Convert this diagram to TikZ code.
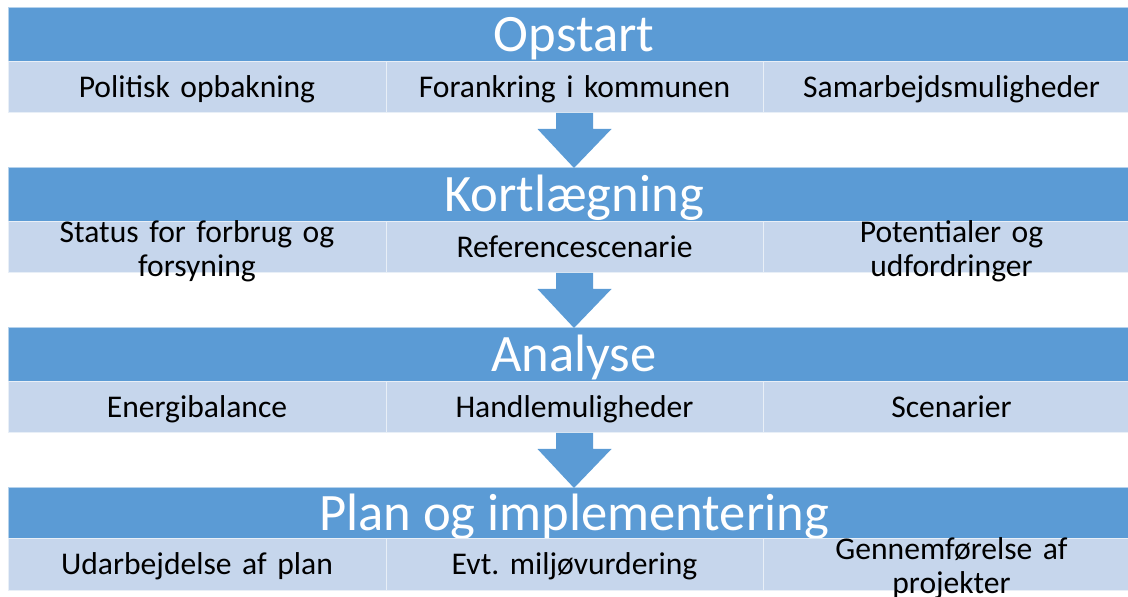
\documentclass[tikz,border=0pt]{standalone}
\usepackage{fontspec}
\setmainfont{Carlito}
\usetikzlibrary{calc}
\definecolor{phaseblue}{RGB}{91,155,213}
\definecolor{tasklight}{RGB}{198,214,236}

\begin{document}
\begin{tikzpicture}[x=0.5pt,y=-0.5pt]
\tikzstyle{every node}+=[inner sep=0pt,outer sep=0pt]
\tikzstyle{phase}=[fill=phaseblue,draw=white!55!phaseblue,line width=0.5pt,anchor=north west,minimum width=566pt,minimum height=27pt,text=white,font=\fontsize{26.3}{30}\selectfont,text height=16.9pt,text depth=0pt]
\tikzstyle{task}=[fill=tasklight,draw=white!60!tasklight,line width=0.5pt,anchor=north west,minimum height=25.5pt,text width=188.5pt,align=center,font=\frenchspacing\fontsize{15.8}{17}\selectfont,text height=10.2pt,text depth=0pt]
\tikzstyle{twoline}=[text height=7.6pt,text depth=12.4pt]
\tikzstyle{flow}=[fill=phaseblue]
\useasboundingbox (0,0) rectangle (1128,597);
\clip (0,0) rectangle (1128,597);
% Opstart
\node [phase] (opstart) at (8,8) {Opstart};
\node [task,text width=189pt] (politisk) at (opstart.south west) {Politisk opbakning};
\node [task] (forankring) at (politisk.north east) {Forankring i kommunen};
\node [task] (samarbejde) at (forankring.north east) {Samarbejdsmuligheder};
% Kortlaegning
\node [phase] (kortlaegning) at (8,168) {Kortlægning};
\node [task,twoline,text width=189pt] (status) at (kortlaegning.south west) {Status for forbrug og\\forsyning};
\node [task] (reference) at (status.north east) {Referencescenarie};
\node [task,twoline] (potentialer) at (reference.north east) {Potentialer og\\udfordringer};
% Analyse
\node [phase] (analyse) at (8,328) {Analyse};
\node [task,text width=189pt] (energi) at (analyse.south west) {Energibalance};
\node [task] (handle) at (energi.north east) {Handlemuligheder};
\node [task] (scenarier) at (handle.north east) {Scenarier};
% Plan og implementering
\node [phase,minimum height=25.5pt] (plan) at (8,488) {Plan og implementering};
\node [task,text width=189pt] (udarbejdelse) at (plan.south west) {Udarbejdelse af plan};
\node [task] (miljo) at (udarbejdelse.north east) {Evt. miljøvurdering};
\node [task,twoline] (gennemfoerelse) at (miljo.north east) {Gennemførelse af\\projekter};
% block arrows
\foreach \a/\b in {forankring/kortlaegning,reference/analyse,handle/plan}
  \fill [flow] ($(\a.south)+(-18.5,0)$) -- ($(\a.south)+(18.5,0)$) -- ($(\a.south)+(18.5,16)$) -- ($(\a.south)+(37,16)$) -- (\b.north) -- ($(\a.south)+(-37,16)$) -- ($(\a.south)+(-18.5,16)$) -- cycle;
\end{tikzpicture}
\end{document}
